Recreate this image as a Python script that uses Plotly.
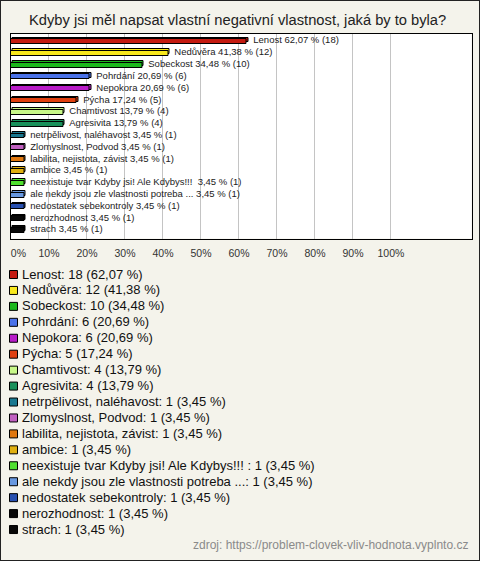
import plotly.graph_objects as go

title = "Kdyby jsi měl napsat vlastní negativní vlastnost, jaká by to byla?"
categories = [
    "Lenost", "Nedůvěra", "Sobeckost", "Pohrdání", "Nepokora", "Pýcha",
    "Chamtivost", "Agresivita", "netrpělivost, naléhavost", "Zlomyslnost, Podvod",
    "labilita, nejistota, závist", "ambice", "neexistuje tvar Kdyby jsi! Ale Kdybys!!! ",
    "ale nekdy jsou zle vlastnosti potreba ...", "nedostatek sebekontroly",
    "nerozhodnost", "strach",
]
counts = [18, 12, 10, 6, 6, 5, 4, 4, 1, 1, 1, 1, 1, 1, 1, 1, 1]
percents = [62.07, 41.38, 34.48, 20.69, 20.69, 17.24, 13.79, 13.79,
            3.45, 3.45, 3.45, 3.45, 3.45, 3.45, 3.45, 3.45, 3.45]
colors = ["#c41a10", "#f8e81c", "#1cb81c", "#4a72e8", "#b81cc8", "#e04010",
          "#c8f888", "#18905a", "#1a7890", "#c060c0", "#e07810", "#e0b010",
          "#50e030", "#6898e0", "#2850b0", "#080808", "#080808"]
tick_vals = [0, 10, 20, 30, 40, 50, 60, 70, 80, 90, 100]
tick_text = ["0%", "10%", "20%", "30%", "40%", "50%", "60%", "70%", "80%", "90%", "100%"]
source = "zdroj: https://problem-clovek-vliv-hodnota.vyplnto.cz"

W, H = 480, 561
FONT = "Liberation Sans, Arial, sans-serif"

def fmt(p):
    return f"{p:.2f}".replace(".", ",")

bar_labels = ["\u00a0\u00a0" + f"{c} {fmt(p)} % ({n})" for c, p, n in zip(categories, percents, counts)]
legend_labels = [f"{c}: {n} ({fmt(p)} %)" for c, p, n in zip(categories, percents, counts)]

BW = 0.42
fig = go.Figure()
# 3D depth (back face)
fig.add_trace(go.Bar(
    y=categories, x=percents, base=0.4, orientation="h",
    width=BW, offset=-BW / 2 - 0.127,
    marker=dict(color=colors, line=dict(color="#000000", width=1)),
    text=bar_labels, textposition="outside", constraintext="none", cliponaxis=False,
    textfont=dict(family=FONT, size=9.5, color="#222222"),
    hoverinfo="skip", showlegend=False,
))
# front face
fig.add_trace(go.Bar(
    y=categories, x=percents, orientation="h",
    width=BW, offset=-BW / 2,
    marker=dict(color=colors, line=dict(color="#000000", width=1)),
    showlegend=False,
))
# invisible trace to carry the tick labels axis
fig.add_trace(go.Scatter(x=[0, 100], y=[categories[0], categories[0]], xaxis="x2",
                         mode="markers", marker=dict(opacity=0), showlegend=False, hoverinfo="skip"))

x0p, x1p = 10.5 / W, 471.5 / W
y_top, y_bot = 34, 238.5
xr = [-0.13, 121.2]

label_vals = [1.95] + tick_vals[1:]

fig.update_layout(
    width=W, height=H,
    margin=dict(l=0, r=0, t=0, b=0),
    paper_bgcolor="#f4f3eb", plot_bgcolor="#ffffff",
    barmode="overlay", bargap=0,
    showlegend=False,
    font=dict(family=FONT, color="#222222"),
    xaxis=dict(domain=[x0p, x1p], range=xr, tickvals=tick_vals, showticklabels=False,
               showgrid=True, gridcolor="#c4c4c4", gridwidth=1, zeroline=False,
               showline=True, linecolor="#000000", linewidth=1, mirror=True, fixedrange=True),
    xaxis2=dict(domain=[x0p, x1p], range=xr, overlaying="x", anchor="y", side="bottom",
                tickvals=label_vals, ticktext=tick_text, showgrid=False, zeroline=False,
                ticks="outside", ticklen=5, tickcolor="rgba(0,0,0,0)",
                tickfont=dict(family=FONT, size=10.5, color="#333333"), showline=False),
    yaxis=dict(domain=[1 - y_bot / H, 1 - y_top / H], range=[16.68, -0.635],
               type="category", showticklabels=False, showgrid=False, zeroline=False,
               showline=True, linecolor="#000000", linewidth=1, mirror=True, fixedrange=True),
)

annotations = [dict(text=title, x=237 / W, y=1 - 20 / H, xref="paper", yref="paper",
                    xanchor="center", yanchor="middle", showarrow=False,
                    font=dict(family=FONT, size=14.7, color="#222222"))]
shapes = []
for i, (lab, col) in enumerate(zip(legend_labels, colors)):
    yc = 274 + i * 15.94
    annotations.append(dict(text=lab, x=20 / W, y=1 - yc / H, xref="paper", yref="paper",
                            xanchor="left", yanchor="middle", showarrow=False,
                            font=dict(family=FONT, size=13, color="#111111")))
    shapes.append(dict(type="rect", xref="paper", yref="paper",
                       x0=9.5 / W, x1=17.5 / W, y0=1 - (yc + 4.5) / H, y1=1 - (yc - 3.5) / H,
                       fillcolor=col, line=dict(color="#000000", width=1)))
annotations.append(dict(text=source, x=470 / W, y=1 - 545 / H, xref="paper", yref="paper",
                        xanchor="right", yanchor="middle", showarrow=False,
                        font=dict(family=FONT, size=12, color="#8a8a8a")))
shapes.append(dict(type="rect", xref="paper", yref="paper", x0=0, x1=1, y0=0, y1=1,
                   line=dict(color="#222222", width=2), fillcolor="rgba(0,0,0,0)", layer="above"))
fig.update_layout(annotations=annotations, shapes=shapes)

fig.write_html("out.html", config={"displayModeBar": False},
               post_script="document.body.style.margin='0';document.body.style.overflow='hidden';")
